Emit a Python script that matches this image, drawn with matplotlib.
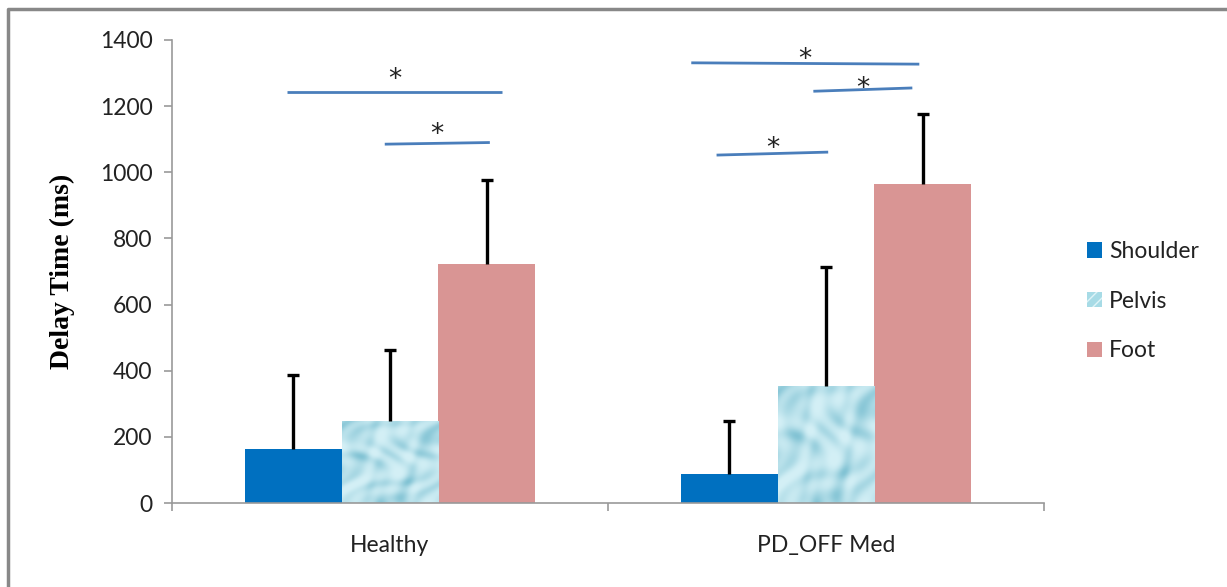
import numpy as np
import matplotlib
matplotlib.use("Agg")
import matplotlib.pyplot as plt
from matplotlib.patches import Patch
from matplotlib.lines import Line2D

# ---- data ----
groups = ["Healthy", "PD_OFF Med"]
series = ["Shoulder", "Pelvis", "Foot"]
shoulder_mean = [162, 88]
pelvis_mean = [247, 355]
foot_mean = [723, 964]
shoulder_sd = [225, 160]
pelvis_sd = [217, 358]
foot_sd = [253, 212]

# significance brackets: (x_start, x_end, y_start, y_end) in data units, star height
sig_x_start = [-0.236, -0.012, 0.691, 0.971, 0.749]
sig_x_end = [0.258, 0.229, 1.214, 1.198, 1.005]
sig_y_start = [1242, 1085, 1331, 1245, 1052]
sig_y_end = [1242, 1090, 1327, 1255, 1061]
sig_star_y = [1303, 1137, 1361, 1276, 1092]

yticks = [0, 200, 400, 600, 800, 1000, 1200, 1400]

colors = {"Shoulder": "#0070c0", "Pelvis": "#b3e3ec", "Foot": "#d99594"}
TXT = "#222222"

plt.rcParams["font.family"] = ["Lato", "DejaVu Sans"]

fig = plt.figure(figsize=(12.27, 5.87), dpi=100)
ax = fig.add_axes([172 / 1227, 1 - 503 / 587, (1044 - 172) / 1227, (503 - 40) / 587])

x = np.arange(len(groups))
width = 0.2222
means = [shoulder_mean, pelvis_mean, foot_mean]
sds = [shoulder_sd, pelvis_sd, foot_sd]


def water_texture(n=200):
    # soft bubbly pattern in pale cyan
    yy, xx = np.mgrid[0:n, 0:n] / n
    v = (np.sin(13 * xx + 3 * np.sin(8 * yy)) * np.cos(11 * yy + 2 * np.sin(6 * xx))
         + 0.5 * np.sin(19 * (xx + 0.6 * yy) + np.cos(15 * xx)))
    v = (v - v.min()) / (v.max() - v.min())
    v = v ** 1.6
    light = np.array([212, 240, 246]) / 255
    dark = np.array([130, 195, 212]) / 255
    img = light[None, None, :] * (1 - v[..., None]) + dark[None, None, :] * v[..., None]
    return img


tex = water_texture()

for i, (s, m, sd) in enumerate(zip(series, means, sds)):
    pos = x + (i - 1) * width
    bars = ax.bar(pos, m, width, color=colors[s], zorder=2, linewidth=0)
    top = np.array(m) + np.array(sd)
    ax.vlines(pos, m, top, color="black", lw=2.4, zorder=3)
    ax.hlines(top, pos - 0.0135, pos + 0.0135, color="black", lw=2.4, zorder=3)
    if s == "Pelvis":
        for b in bars:
            bx, by = b.get_x(), b.get_y()
            im = ax.imshow(tex, extent=[bx, bx + b.get_width(), by, by + b.get_height()],
                           aspect="auto", zorder=2.5, interpolation="bilinear")
            im.set_clip_path(b)

for xs, xe, ys, ye, sy in zip(sig_x_start, sig_x_end, sig_y_start, sig_y_end, sig_star_y):
    ax.plot([xs, xe], [ys, ye], color="#4a7ebb", lw=2, zorder=4, solid_capstyle="butt")
    ax.text((xs + xe) / 2, sy - 44, "*", ha="center", va="baseline",
            fontsize=19, color=TXT, family="DejaVu Sans")

ax.set_xlim(-0.5, 1.5)
ax.set_ylim(0, 1400)
ax.set_yticks(yticks)
ax.set_yticklabels([str(t) for t in yticks], fontsize=16.5, color=TXT)
ax.set_xticks([-0.5, 0.5, 1.5])
ax.set_xticklabels([])
for xi, g in zip(x, groups):
    ax.text(xi, -130, g, ha="center", va="center", fontsize=16.5, color=TXT)
ax.tick_params(axis="both", direction="out", length=6, width=1.2, color="#999999")
ax.tick_params(axis="y", pad=8)
for sp in ["top", "right"]:
    ax.spines[sp].set_visible(False)
for sp in ["left", "bottom"]:
    ax.spines[sp].set_color("#999999")
    ax.spines[sp].set_linewidth(1.2)
ax.set_ylabel("Delay Time (ms)", family="Liberation Serif", fontweight="bold",
              fontsize=20, labelpad=18, color="black")
ax.patch.set_alpha(0)

handles = [Patch(facecolor=colors["Shoulder"], edgecolor="none"),
           Patch(facecolor="#a7dbe6", edgecolor="#dff4f8", hatch="///", linewidth=0),
           Patch(facecolor=colors["Foot"], edgecolor="none")]
fig.legend(handles, series, loc="upper left", bbox_to_anchor=(1078 / 1227, 1 - 232 / 587),
           frameon=False, fontsize=16.5, handlelength=0.65, handleheight=0.65,
           handletextpad=0.3, labelspacing=1.25, labelcolor=TXT, borderaxespad=0)

# outer frame (top and left edges)
fig.add_artist(Line2D([8 / 1227, 8 / 1227, 1.0], [0.0, 1 - 9 / 587, 1 - 9 / 587],
                      transform=fig.transFigure, color="#888888", lw=2.5))

fig.savefig("out.png", dpi=100)
